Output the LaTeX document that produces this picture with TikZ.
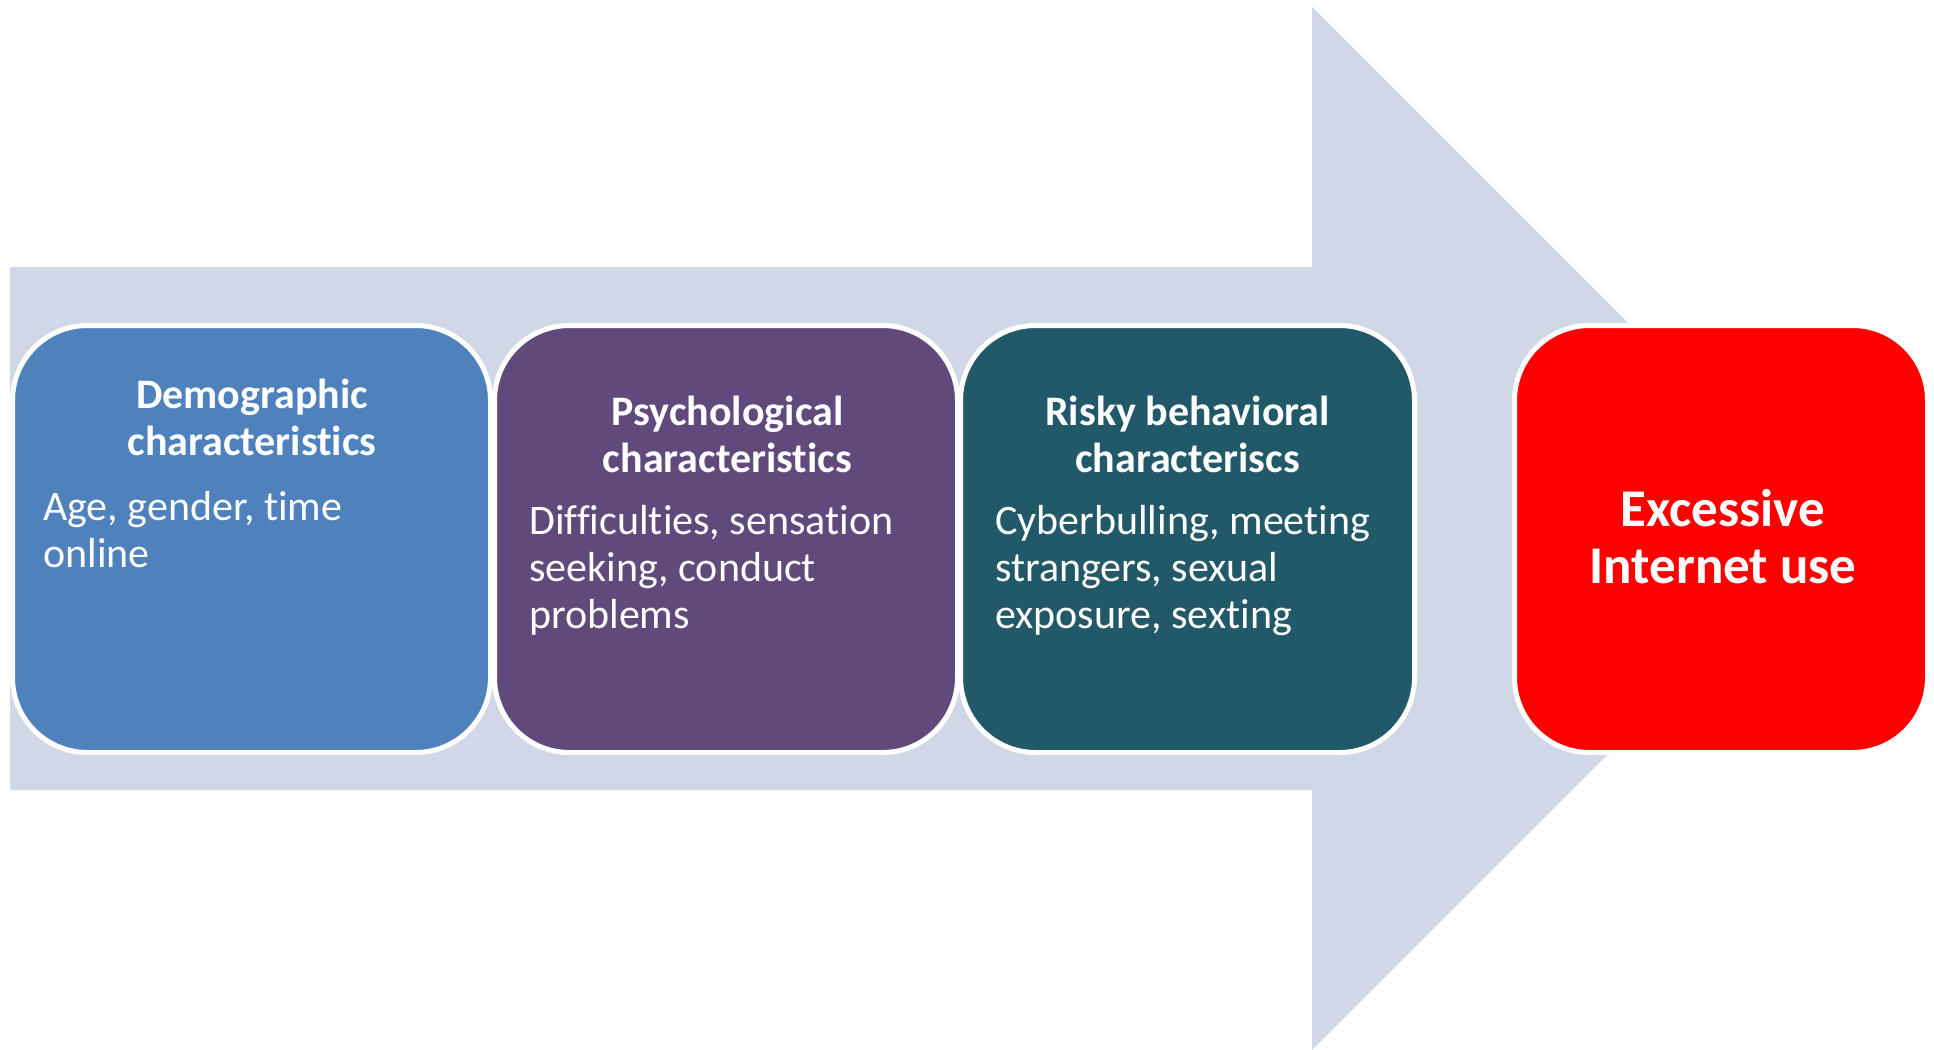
\documentclass[tikz,border=0pt]{standalone}
\usepackage{fontspec}
\setmainfont{Carlito}[Ligatures=NoCommon]
\usepackage{xcolor}
\usetikzlibrary{calc}
\definecolor{arrowgray}{RGB}{208,216,232}
\definecolor{demoblue}{RGB}{79,129,189}
\definecolor{psychpurple}{RGB}{96,74,123}
\definecolor{riskteal}{RGB}{33,89,104}
\definecolor{outred}{RGB}{255,0,0}
\tikzset{
	card/.style={
			rectangle, rounded corners=75pt, draw=white, line width=5pt,
			fill=#1, minimum height=427pt, inner sep=0pt
		},
	cardtitle/.style={
			anchor=base, align=center, text=white, inner sep=0pt,
			font=\fontsize{42}{46.7}\selectfont\bfseries
		},
	cardtext/.style={
			anchor=base west, align=left, text=white, inner sep=0pt,
			font=\fontsize{42}{47}\selectfont
		}
}

\begin{document}
\begin{tikzpicture}[x=1pt,y=-1pt]
		\useasboundingbox (0,0) rectangle (1934,1049);
		\fill [arrowgray]	(10,267) -- (1312,267) -- (1312,7) -- (1833.5,528.5)
							-- (1312,1050) -- (1312,790) -- (10,790) -- cycle;
		\node [card=demoblue, minimum width=478pt] (demo) at (251.5,539) {};
		\node [card=psychpurple, minimum width=463pt] (psych) at (726,539) {};
		\node [card=riskteal, minimum width=454pt] (risk) at (1187.5,539) {};
		\node [card=outred, minimum width=413pt] (excess) at (1721,539) {};
		\node [cardtitle] (demotitle) at (252,455) {Demographic\\characteristics};
		\node [cardtext] (demotext) at (43,567) {Age, gender, time\\online};
		\node [cardtitle] (psychtitle) at (727.5,472) {Psychological\\characteristics};
		\node [cardtext] (psychtext) at (529,628) {Difficulties, sensation\\seeking, conduct\\problems};
		\node [cardtitle] (risktitle) at (1187.5,472) {Risky behavioral\\characteriscs};
		\node [cardtext] (risktext) at (995,628) {Cyberbulling, meeting\\strangers, sexual\\exposure, sexting};
		\node [cardtitle, font=\fontsize{53}{57}\selectfont\bfseries] (excesstitle) at (1723,583) {Excessive\\Internet use};
	\end{tikzpicture}
\end{document}
